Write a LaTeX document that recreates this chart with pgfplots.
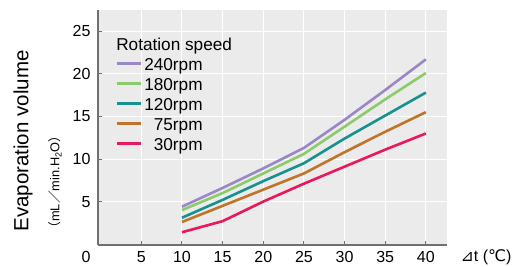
\documentclass[border=0pt]{standalone}
\usepackage{fontspec}
\setmainfont{Liberation Sans}
\newfontfamily\symfont{DejaVu Sans}
\newfontfamily\cjkfont{Noto Sans CJK JP}
\usepackage{pgfplots}
\pgfplotsset{compat=1.18}
\definecolor{c240}{HTML}{9B87C8}
\definecolor{c180}{HTML}{8CCB6A}
\definecolor{c120}{HTML}{17918E}
\definecolor{c75}{HTML}{C0742A}
\definecolor{c30}{HTML}{E8185A}
\definecolor{bggray}{HTML}{EBEBEB}
\definecolor{axgray}{HTML}{707070}
\newcommand{\ls}{\rule[-6pt]{0pt}{20.5pt}}
\begin{document}
\begin{tikzpicture}[x=1pt,y=1pt]
\useasboundingbox (-98,-21) rectangle (414,245);
\begin{axis}[
  at={(0,0)}, anchor=south west,
  scale only axis, width=349pt, height=235pt,
  xmin=-0.33, xmax=42.6, ymin=-0.1, ymax=27.5,
  axis background/.style={fill=bggray},
  axis x line*=bottom, axis y line*=left,
  axis line style={axgray, line width=1.2pt, -},
  xtick={5,10,...,40}, ytick={5,10,...,25},
  grid=major, major grid style={white, line width=1pt},
  tick style={axgray, line width=1pt},
  major tick length=4pt,
  xtick pos=bottom, ytick pos=left,
  tick align=inside,
  /pgf/number format/assume math mode=true,
  ticklabel style={font=\fontsize{16}{17}\selectfont, text=black},
  xticklabel style={yshift=-3pt},
  yticklabel style={xshift=-4pt},
  legend style={at={(0.049,0.90)}, anchor=north west, draw=none, fill=none,
    font=\fontsize{17.2}{18}\selectfont, row sep=0pt, inner sep=0pt},
  legend cell align=left,
  legend image code/.code={\draw[line width=3pt] (0pt,0pt) -- (24pt,0pt); \path (17pt,0pt);},
  every axis plot/.append style={line width=2.6pt},
]
\addlegendimage{empty legend}
\addlegendentry{\hspace{-28pt}\ls Rotation speed}
\addplot[c240] coordinates {(10,4.4) (15,6.6) (20,8.9) (25,11.3) (30,14.6) (35,18.1) (40,21.7)};
\addlegendentry{\ls 240rpm}
\addplot[c180] coordinates {(10,4.0) (15,6.0) (20,8.3) (25,10.6) (30,13.8) (35,17.0) (40,20.1)};
\addlegendentry{\ls 180rpm}
\addplot[c120] coordinates {(10,3.1) (15,5.2) (20,7.4) (25,9.5) (30,12.4) (35,15.1) (40,17.8)};
\addlegendentry{\ls 120rpm}
\addplot[c75] coordinates {(10,2.6) (15,4.5) (20,6.4) (25,8.3) (30,10.8) (35,13.2) (40,15.5)};
\addlegendentry{\ls\phantom{0}75rpm}
\addplot[c30] coordinates {(10,1.4) (15,2.7) (20,5.0) (25,7.1) (30,9.1) (35,11.1) (40,13.0)};
\addlegendentry{\ls\phantom{0}30rpm}
\end{axis}
\node[rotate=90, font=\fontsize{20.5}{21}\selectfont] at (-75,104) {Evaporation volume};
\node[rotate=90, font=\fontsize{12.8}{13}\selectfont] at (-43,63) {{\cjkfont （}mL{\cjkfont ／}min.H\textsubscript{2}O{\cjkfont ）}};
\node[font=\fontsize{16}{17}\selectfont] at (-12,-12) {0};
\node[font=\fontsize{16}{17}\selectfont] at (388,-12) {{\symfont ⊿}t ({\symfont ℃})};
\end{tikzpicture}
\end{document}
